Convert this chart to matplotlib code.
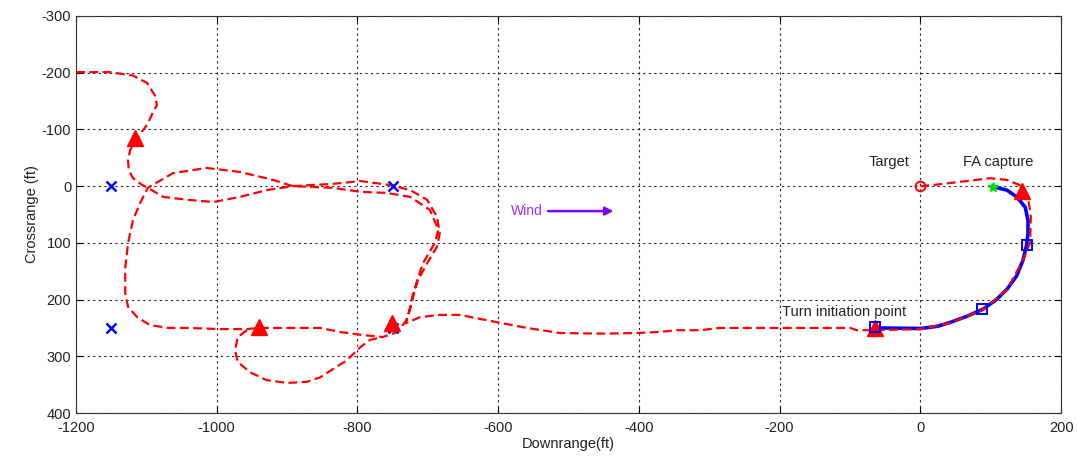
import matplotlib.pyplot as plt

plt.rcParams["font.family"] = ["Liberation Sans", "DejaVu Sans"]
plt.rcParams["axes.unicode_minus"] = False

# main red track (downrange, crossrange)
path_x = [-1200, -1152, -1119, -1099, -1088, -1085, -1091, -1099, -1112, -1123, -1126, -1125,
          -1119, -1106, -1098, -1076, -1042, -1005, -967, -929, -892, -835, -796, -754, -725,
          -701, -687, -683, -687, -701, -714, -721, -725, -730, -739, -747, -764, -796, -825,
          -853, -900, -940, -957, -995, -1040, -1069, -1095, -1113, -1126, -1130, -1130, -1126,
          -1119, -1109, -1098, -1062, -1014, -967, -920, -892, -835, -796, -758, -725, -697,
          -685, -690, -707, -715, -722, -727, -732, -711, -683, -654, -630, -597, -559, -512,
          -450, -403, -370, -346, -313, -285, -200, -100, -90, -62, 0, 43, 89, 123, 146, 156,
          157, 153, 141, 123, 99, 66, 18, 0]
path_y = [-201, -201, -195, -182, -160, -143, -129, -108, -87, -64, -46, -28,
          -14, -2, 3, 19, 24, 28, 19, 7, 0, -4, -9, -2, 7,
          24, 54, 83, 107, 136, 166, 189, 213, 236, 250, 259, 266, 262, 257,
          250, 250, 250, 252, 252, 250, 250, 245, 231, 213, 189, 143, 100,
          60, 30, 3, -23, -32, -25, -11, 0, 3, 10, 12, 19, 42,
          77, 100, 136, 166, 201, 225, 242, 231, 227, 227, 233, 241, 250, 259,
          260, 259, 257, 254, 254, 250, 250, 250, 254, 254, 252, 241, 218, 183, 130, 100,
          54, 19, -2, -11, -14, -9, -2, 0]

# lower loop of the red track
loop_x = [-957, -970, -974, -970, -953, -929, -900, -872, -853, -815, -796, -782, -764]
loop_y = [254, 266, 289, 310, 328, 342, 347, 345, 337, 307, 284, 271, 266]

# blue final approach segment
blue_x = [-62, 0, 25, 43, 65, 89, 108, 123, 137, 146, 151, 153, 153, 149, 137, 123, 103]
blue_y = [250, 251, 247, 240, 230, 217, 200, 182, 158, 130, 104, 83, 60, 37, 19, 7, 1]

wp_x = [-1150, -750, -1150, -750]
wp_y = [0, 0, 250, 250]
tri_x = [-1116, -940, -751, -64, 145]
tri_y = [-85, 248, 242, 250, 8]
sq_x = [-64, 88, 151]
sq_y = [249, 217, 104]

fig = plt.figure(figsize=(10.78, 4.66), dpi=100)
ax = fig.add_axes([0.0705, 0.1137, 0.9138, 0.852])

ax.plot(blue_x, blue_y, color="#0000ff", lw=2.6, zorder=3)
ax.plot(path_x, path_y, color="#ff0000", lw=1.6, ls=(0, (4, 2)), zorder=4)
ax.plot(loop_x, loop_y, color="#ff0000", lw=1.6, ls=(0, (4, 2)), zorder=4)

ax.plot(wp_x, wp_y, "x", color="#0000ff", ms=7, mew=1.8, ls="none", zorder=5)
ax.plot(tri_x, tri_y, "^", color="#ff0000", ms=11, ls="none", zorder=5)
ax.plot(sq_x, sq_y, "s", mfc="none", mec="#0000ff", ms=7, mew=1.4, ls="none", zorder=6)
ax.plot([0], [0], "o", mfc="none", mec="#ff0000", ms=7, mew=1.4, zorder=6)
ax.plot([103], [1], "*", color="#00dd00", ms=7, zorder=6)

ax.text(-73, -42, "Target", fontsize=10.5, va="center", ha="left", color="#222222")
ax.text(60, -42, "FA capture", fontsize=10.5, va="center", ha="left", color="#222222")
ax.text(-196, 222, "Turn initiation point", fontsize=10.5, va="center", ha="left",
        color="#222222")
ax.text(-582, 44, "Wind", fontsize=10, va="center", ha="left", color="#9933ff")
ax.annotate("", xy=(-436, 44), xytext=(-529, 44),
            arrowprops=dict(arrowstyle="-|>", color="#8000ff", lw=1.8,
                            mutation_scale=12, shrinkA=0, shrinkB=0))

ax.set_xlim(-1200, 200)
ax.set_ylim(400, -300)
ax.set_xticks(range(-1200, 201, 200))
ax.set_yticks(range(-300, 401, 100))
ax.tick_params(direction="in", labelsize=10.5, length=4, top=True, right=True,
               labelcolor="#222222")
ax.tick_params(axis="x", pad=6)
ax.grid(True, color="#222222", ls=(0, (2, 3)), lw=0.8)
for s in ax.spines.values():
    s.set_color("#333333")

ax.set_xlabel("Downrange(ft)", fontsize=10.5, labelpad=1, color="#222222")
ax.set_ylabel("Crossrange (ft)", fontsize=10.5, labelpad=2, color="#222222")

fig.savefig("out.png", dpi=100)
